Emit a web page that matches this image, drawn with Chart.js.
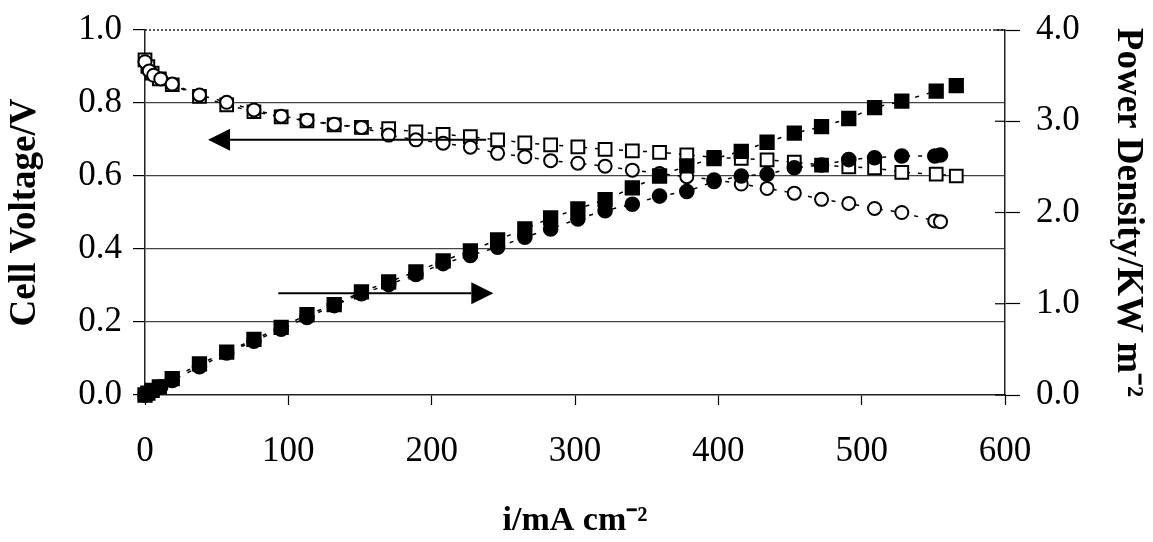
<!DOCTYPE html>
<html>
<head>
<meta charset="utf-8">
<script src="https://cdn.jsdelivr.net/npm/chart.js@4.4.0/dist/chart.umd.min.js"></script>
<style>
html, body { margin: 0; padding: 0; background: #fff; }
#wrap { width: 1153px; height: 542px; }
</style>
</head>
<body>
<div id="wrap"><canvas id="chart" width="1153" height="542"></canvas></div>
<script>
// current density (mA cm-2) for the square series and the circle series
const currentA = [0, 2, 5, 10, 19, 38, 57, 76, 95, 113, 132, 151, 170, 189, 208, 227, 246, 265, 283, 302, 321, 340, 359, 378, 397, 416, 434, 453, 472, 491, 509, 528, 552, 566];
const currentB = [0, 3, 6, 11, 19, 38, 57, 76, 95, 113, 132, 151, 170, 189, 208, 227, 246, 265, 283, 302, 321, 340, 359, 378, 397, 416, 434, 453, 472, 491, 509, 528, 551, 555];

// cell voltage (V), left axis
const voltageA = [0.918, 0.900, 0.882, 0.866, 0.850, 0.818, 0.795, 0.776, 0.762, 0.751, 0.740, 0.733, 0.730, 0.721, 0.714, 0.708, 0.699, 0.691, 0.685, 0.680, 0.673, 0.669, 0.665, 0.658, 0.651, 0.648, 0.644, 0.638, 0.630, 0.625, 0.622, 0.610, 0.605, 0.600];
const voltageB = [0.913, 0.888, 0.876, 0.866, 0.852, 0.822, 0.802, 0.781, 0.764, 0.753, 0.742, 0.733, 0.712, 0.699, 0.690, 0.679, 0.662, 0.653, 0.642, 0.635, 0.627, 0.616, 0.607, 0.598, 0.590, 0.578, 0.566, 0.553, 0.536, 0.525, 0.511, 0.500, 0.477, 0.475];

// power density (KW m-2), right axis
const powerA = [0.00, 0.02, 0.05, 0.09, 0.18, 0.34, 0.47, 0.61, 0.74, 0.88, 0.99, 1.13, 1.24, 1.35, 1.47, 1.58, 1.70, 1.82, 1.94, 2.04, 2.14, 2.27, 2.40, 2.51, 2.59, 2.67, 2.77, 2.87, 2.94, 3.03, 3.15, 3.22, 3.33, 3.39];
const powerB = [0.00, 0.02, 0.05, 0.09, 0.16, 0.31, 0.46, 0.59, 0.72, 0.85, 0.98, 1.11, 1.21, 1.32, 1.44, 1.53, 1.62, 1.73, 1.82, 1.93, 2.02, 2.09, 2.18, 2.23, 2.34, 2.40, 2.42, 2.49, 2.52, 2.58, 2.60, 2.62, 2.62, 2.63];

const xTicks = [0, 100, 200, 300, 400, 500, 600];
const voltTicks = [0, 0.2, 0.4, 0.6, 0.8, 1.0];
const powerTicks = [0, 1, 2, 3, 4];

// arrows telling which axis each group belongs to
const arrows = [
  { from: 238, to: 44, at: 0.699, axis: 'y' },
  { from: 93, to: 243, at: 1.115, axis: 'y2' }
];

function pairs(xs, ys) {
  return xs.map(function (x, k) { return { x: x, y: ys[k] }; });
}

const serif = "'Liberation Serif', 'Times New Roman', serif";

function series(label, xs, ys, axis, style, filled, radius) {
  return {
    label: label,
    data: pairs(xs, ys),
    yAxisID: axis,
    showLine: true,
    borderColor: '#000',
    borderWidth: 1.5,
    borderDash: [4, 8],
    pointStyle: style,
    pointRadius: radius,
    pointBorderWidth: 2,
    pointBorderColor: '#000',
    pointBackgroundColor: filled ? '#000' : '#fff',
    clip: false
  };
}

// keep the plot box where the picture has it
function fixSide(width) {
  return function (s) {
    s.width = width;
    s.paddingTop = 0;
    s.paddingBottom = 0;
  };
}

const framePlugin = {
  id: 'frame',
  afterDraw: function (chart) {
    const ctx = chart.ctx;
    const a = chart.chartArea;
    const xs = chart.scales.x;
    ctx.save();
    // dotted top border
    ctx.strokeStyle = '#222';
    ctx.lineWidth = 1.5;
    ctx.setLineDash([2, 2]);
    ctx.beginPath();
    ctx.moveTo(a.left, a.top);
    ctx.lineTo(a.right, a.top);
    ctx.stroke();
    ctx.setLineDash([]);
    // right ticks cross into the plot a little
    const y2 = chart.scales.y2;
    ctx.lineWidth = 1.2;
    ctx.strokeStyle = '#000';
    powerTicks.forEach(function (v) {
      const py = y2.getPixelForValue(v);
      ctx.beginPath();
      ctx.moveTo(a.right - 10, py);
      ctx.lineTo(a.right, py);
      ctx.stroke();
    });
    // arrows
    ctx.fillStyle = '#000';
    ctx.lineWidth = 2;
    arrows.forEach(function (ar) {
      const sc = chart.scales[ar.axis];
      const py = sc.getPixelForValue(ar.at);
      const x1 = xs.getPixelForValue(ar.from);
      const x2 = xs.getPixelForValue(ar.to);
      const dir = x2 > x1 ? 1 : -1;
      const head = 22;
      ctx.beginPath();
      ctx.moveTo(x1, py);
      ctx.lineTo(x2 - dir * head, py);
      ctx.stroke();
      ctx.beginPath();
      ctx.moveTo(x2, py);
      ctx.lineTo(x2 - dir * head, py - 11);
      ctx.lineTo(x2 - dir * head, py + 11);
      ctx.closePath();
      ctx.fill();
    });
    ctx.restore();
  }
};

new Chart(document.getElementById('chart'), {
  type: 'scatter',
  data: {
    datasets: [
      series('Power A', currentA, powerA, 'y2', 'rect', true, 9.4),
      series('Power B', currentB, powerB, 'y2', 'circle', true, 6.8),
      series('Voltage B', currentB, voltageB, 'y', 'circle', false, 6.5),
      series('Voltage A', currentA, voltageA, 'y', 'rect', false, 9.0)
    ]
  },
  options: {
    responsive: false,
    animation: false,
    layout: { padding: { top: 30, left: 0, right: 0, bottom: 0 } },
    plugins: {
      legend: { display: false },
      tooltip: { enabled: false }
    },
    scales: {
      x: {
        type: 'linear',
        min: 0,
        max: 600,
        afterBuildTicks: function (s) { s.ticks = xTicks.map(function (v) { return { value: v }; }); },
        afterFit: function (s) { s.height = 147; },
        ticks: {
          color: '#000',
          font: { family: serif, size: 35 },
          padding: 26,
          maxRotation: 0
        },
        grid: { drawOnChartArea: false, tickLength: 10, tickColor: '#000', tickWidth: 1.2 },
        border: { color: '#222', width: 1.5 },
        title: {
          display: true,
          text: 'i/mA cm\u207B\u00B2',
          color: '#000',
          font: { family: serif, size: 34, weight: 'bold' },
          padding: { top: 0, bottom: 0 }
        }
      },
      y: {
        position: 'left',
        min: 0,
        max: 1,
        afterBuildTicks: function (s) { s.ticks = voltTicks.map(function (v) { return { value: v }; }); },
        afterFit: fixSide(145),
        ticks: {
          color: '#000',
          font: { family: serif, size: 35 },
          padding: 11,
          callback: function (v) { return v.toFixed(1); }
        },
        grid: {
          color: function (c) { return (c.tick && c.tick.value > 0 && c.tick.value < 1) ? '#444' : 'rgba(0,0,0,0)'; },
          lineWidth: 1.2,
          tickLength: 12,
          tickColor: '#000',
          tickWidth: 1.2
        },
        border: { color: '#222', width: 1.5 },
        title: {
          display: true,
          text: 'Cell Voltage/V',
          color: '#000',
          font: { family: serif, size: 37, weight: 'bold' },
          padding: { top: 3, bottom: 0 }
        }
      },
      y2: {
        position: 'right',
        min: 0,
        max: 4,
        afterBuildTicks: function (s) { s.ticks = powerTicks.map(function (v) { return { value: v }; }); },
        afterFit: fixSide(148),
        ticks: {
          color: '#000',
          font: { family: serif, size: 35 },
          padding: 16,
          callback: function (v) { return v.toFixed(1); }
        },
        grid: { drawOnChartArea: false, tickLength: 15, tickColor: '#000', tickWidth: 1.2 },
        border: { color: '#222', width: 1.5 },
        title: {
          display: true,
          text: 'Power Density/KW m\u207B\u00B2',
          color: '#000',
          font: { family: serif, size: 37, weight: 'bold' },
          padding: { top: 3, bottom: 0 }
        }
      }
    }
  },
  plugins: [framePlugin]
});
</script>
</body>
</html>
